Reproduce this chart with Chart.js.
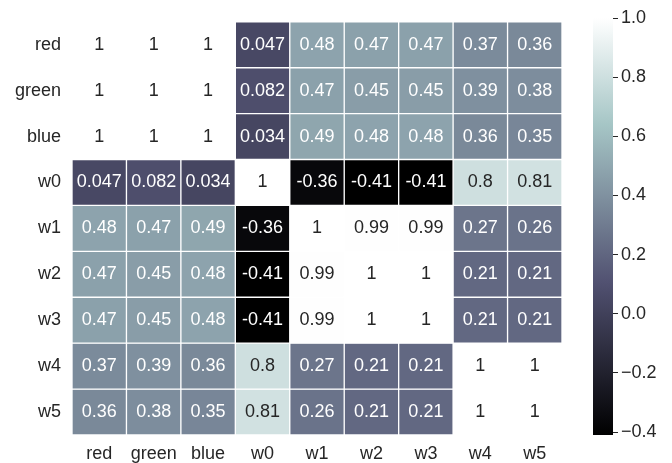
<!DOCTYPE html>
<html>
<head>
<meta charset="utf-8">
<script src="https://cdn.jsdelivr.net/npm/chart.js@4/dist/chart.umd.min.js"></script>
<style>
  html, body { margin: 0; padding: 0; background: #fff; }
  #wrap { position: relative; width: 672px; height: 463px; }
  #heat { position: absolute; left: 0; top: 0; }
  #cbar { position: absolute; left: 560px; top: 0; }
</style>
</head>
<body>
<div id="wrap">
  <canvas id="heat" width="580" height="463"></canvas>
  <canvas id="cbar" width="112" height="463"></canvas>
</div>
<script>
// Correlation matrix of the colour channels and weights
const variables = ['red', 'green', 'blue', 'w0', 'w1', 'w2', 'w3', 'w4', 'w5'];
const rowRed   = [1, 1, 1, 0.047, 0.48, 0.47, 0.47, 0.37, 0.36];
const rowGreen = [1, 1, 1, 0.082, 0.47, 0.45, 0.45, 0.39, 0.38];
const rowBlue  = [1, 1, 1, 0.034, 0.49, 0.48, 0.48, 0.36, 0.35];
const rowW0 = [0.047, 0.082, 0.034, 1, -0.36, -0.41, -0.41, 0.8, 0.81];
const rowW1 = [0.48, 0.47, 0.49, -0.36, 1, 0.99, 0.99, 0.27, 0.26];
const rowW2 = [0.47, 0.45, 0.48, -0.41, 0.99, 1, 1, 0.21, 0.21];
const rowW3 = [0.47, 0.45, 0.48, -0.41, 0.99, 1, 1, 0.21, 0.21];
const rowW4 = [0.37, 0.39, 0.36, 0.8, 0.27, 0.21, 0.21, 1, 1];
const rowW5 = [0.36, 0.38, 0.35, 0.81, 0.26, 0.21, 0.21, 1, 1];
const colorbarTicks = [-0.4, -0.2, 0.0, 0.2, 0.4, 0.6, 0.8, 1.0];

const matrix = [rowRed, rowGreen, rowBlue, rowW0, rowW1, rowW2, rowW3, rowW4, rowW5];
const vmin = Math.min(...matrix.flat());
const vmax = Math.max(...matrix.flat());

const FONT = '"Liberation Sans", Arial, sans-serif';
const TEXT_DARK = '#262626';

// "bone" colormap segments
const BONE = {
  r: [[0, 0], [0.746032, 0.652778], [1, 1]],
  g: [[0, 0], [0.365079, 0.319444], [0.746032, 0.777778], [1, 1]],
  b: [[0, 0], [0.365079, 0.444444], [1, 1]]
};
function seg(pts, t) {
  for (let i = 1; i < pts.length; i++) {
    if (t <= pts[i][0]) {
      const [x0, y0] = pts[i - 1], [x1, y1] = pts[i];
      return y0 + (y1 - y0) * (t - x0) / (x1 - x0);
    }
  }
  return pts[pts.length - 1][1];
}
function boneRGB(t) {
  t = Math.max(0, Math.min(1, t));
  const idx = Math.min(255, Math.floor(t * 256));
  const q = idx / 255;
  return [seg(BONE.r, q), seg(BONE.g, q), seg(BONE.b, q)];
}
const toCss = (c) => `rgb(${c.map(v => Math.round(v * 255)).join(',')})`;
const norm = (v) => (v - vmin) / (vmax - vmin);
function cellColor(v) { return toCss(boneRGB(norm(v))); }
function textColor(v) {
  const lin = boneRGB(norm(v)).map(c => c <= 0.03928 ? c / 12.92 : Math.pow((c + 0.055) / 1.055, 2.4));
  const lum = 0.2126 * lin[0] + 0.7152 * lin[1] + 0.0722 * lin[2];
  return lum > 0.408 ? TEXT_DARK : '#ffffff';
}
// two significant digits, trailing zeros dropped
function fmt(v) {
  let s = v.toPrecision(2);
  if (s.includes('.')) s = s.replace(/0+$/, '').replace(/\.$/, '');
  return s;
}

// one floating bar per cell; each dataset is a row of the matrix
const datasets = matrix.map((row, r) => ({
  label: variables[r],
  data: row.map(() => [r - 0.5, r + 0.5]),
  values: row,
  backgroundColor: row.map(cellColor),
  borderColor: '#ffffff',
  borderWidth: 1,
  borderSkipped: false,
  barPercentage: 1,
  categoryPercentage: 1,
  grouped: false
}));

const annotate = {
  id: 'annotate',
  afterDatasetsDraw(chart) {
    const ctx = chart.ctx;
    const ys = chart.scales.y;
    ctx.save();
    ctx.font = `18px ${FONT}`;
    ctx.textAlign = 'center';
    ctx.textBaseline = 'middle';
    chart.data.datasets.forEach((ds, r) => {
      const meta = chart.getDatasetMeta(r);
      meta.data.forEach((bar, c) => {
        const v = ds.values[c];
        ctx.fillStyle = textColor(v);
        ctx.fillText(fmt(v), bar.x, ys.getPixelForValue(r));
      });
    });
    ctx.restore();
  }
};

new Chart(document.getElementById('heat'), {
  type: 'bar',
  data: { labels: variables, datasets },
  options: {
    responsive: false,
    animation: false,
    devicePixelRatio: 1,
    layout: { padding: { top: 18, right: 18, left: 0, bottom: 0 } },
    plugins: { legend: { display: false }, tooltip: { enabled: false } },
    scales: {
      x: {
        grid: { display: false, drawTicks: false },
        border: { display: false },
        ticks: { color: TEXT_DARK, font: { size: 18, family: FONT }, padding: 8, autoSkip: false, maxRotation: 0 },
        afterFit(s) { s.height = 28; }
      },
      y: {
        type: 'linear',
        reverse: true,
        min: -0.5,
        max: variables.length - 0.5,
        grid: { display: false, drawTicks: false },
        border: { display: false },
        ticks: {
          color: TEXT_DARK, font: { size: 18, family: FONT }, padding: 11,
          callback: (v) => variables[v] ?? ''
        },
        afterBuildTicks(s) { s.ticks = variables.map((_, i) => ({ value: i })); },
        afterFit(s) { s.width = 72; }
      }
    }
  },
  plugins: [annotate]
});

// colour bar: a single floating bar filled with the colormap gradient
function boneGradient(context) {
  const chart = context.chart;
  if (!chart.chartArea) return null;
  const ys = chart.scales.y;
  const y0 = ys.getPixelForValue(vmin), y1 = ys.getPixelForValue(vmax);
  const g = chart.ctx.createLinearGradient(0, y0, 0, y1);
  [0, 0.365079, 0.746032, 1].forEach(s => g.addColorStop(s, toCss([seg(BONE.r, s), seg(BONE.g, s), seg(BONE.b, s)])));
  return g;
}

new Chart(document.getElementById('cbar'), {
  type: 'bar',
  data: {
    labels: [''],
    datasets: [{
      data: [[vmin, vmax]],
      backgroundColor: boneGradient,
      borderWidth: 0,
      barPercentage: 1,
      categoryPercentage: 1
    }]
  },
  options: {
    responsive: false,
    animation: false,
    devicePixelRatio: 1,
    layout: { padding: { top: 18, right: 0, left: 33, bottom: 28 } },
    plugins: { legend: { display: false }, tooltip: { enabled: false } },
    scales: {
      x: { display: false },
      y: {
        position: 'right',
        min: vmin,
        max: vmax,
        grid: { display: true, drawOnChartArea: false, tickLength: 5, tickWidth: 1, tickColor: TEXT_DARK },
        border: { display: false },
        ticks: {
          color: TEXT_DARK, font: { size: 18, family: FONT }, padding: 3,
          callback: (v) => (v < -1e-9 ? '\u2212' : '') + Math.abs(v).toFixed(1)
        },
        afterBuildTicks(s) { s.ticks = colorbarTicks.map(v => ({ value: v })); },
        afterFit(s) { s.width = 59; }
      }
    }
  }
});
</script>
</body>
</html>
